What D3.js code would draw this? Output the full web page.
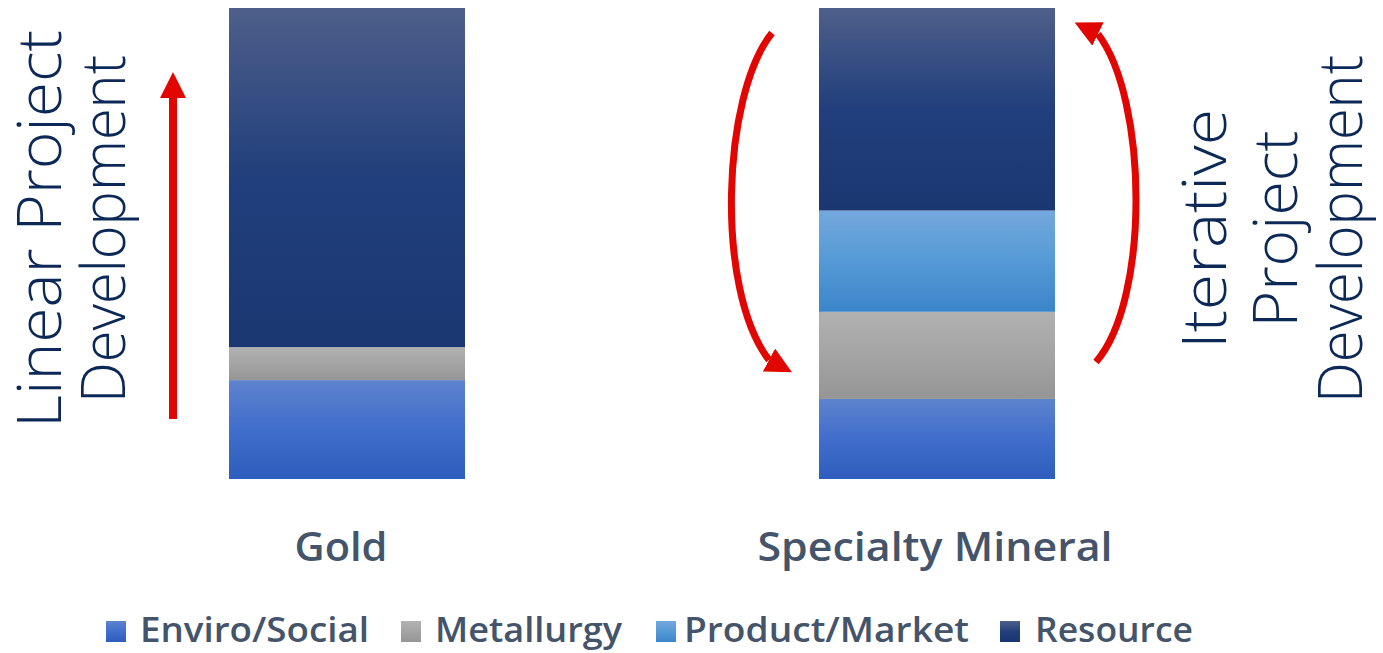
<!DOCTYPE html>
<html>
<head>
<meta charset="utf-8">
<script src="https://cdn.jsdelivr.net/npm/d3@7"></script>
<style>
  html, body { margin: 0; padding: 0; background: #fff; }
  svg { display: block; }
</style>
</head>
<body>
<div id="chart"></div>
<script>
// Values (100% stacked bars)
const categories = ["Gold", "Specialty Mineral"];
const seriesNames = ["Enviro/Social", "Metallurgy", "Product/Market", "Resource"];
const enviroSocial = [21, 17];
const metallurgy = [7, 18.5];
const productMarket = [0, 21.5];
const resource = [72, 43];

// top / middle / bottom colours of each series' vertical gradient
const gradTop = ["#5e83ce", "#b1b1b1", "#73a8dd", "#4e5f8a"];
const gradMid = ["#416ecc", "#a4a4a4", "#559ad6", "#213f7c"];
const gradBottom = ["#2d5dbd", "#959595", "#3c85ca", "#1a3772"];

const width = 1383;
const height = 653;

const rows = categories.map((c, i) => ({
    category: c,
    "Enviro/Social": enviroSocial[i],
    "Metallurgy": metallurgy[i],
    "Product/Market": productMarket[i],
    "Resource": resource[i]
}));

const svg = d3.select("#chart").append("svg")
    .attr("width", width)
    .attr("height", height)
    .attr("viewBox", [0, 0, width, height]);

const defs = svg.append("defs");

seriesNames.forEach((s, i) => {
    const g = defs.append("linearGradient")
        .attr("id", "grad" + i)
        .attr("x1", 0).attr("y1", 0).attr("x2", 0).attr("y2", 1);
    g.append("stop").attr("offset", "0%").attr("stop-color", gradTop[i]);
    g.append("stop").attr("offset", "50%").attr("stop-color", gradMid[i]);
    g.append("stop").attr("offset", "100%").attr("stop-color", gradBottom[i]);
});

// arrow heads: one follows the path, the curved ones keep a fixed tilt like the original
function addHead(id, orient) {
    defs.append("marker")
        .attr("id", id)
        .attr("markerUnits", "userSpaceOnUse")
        .attr("viewBox", "0 -13 26 26")
        .attr("markerWidth", 26)
        .attr("markerHeight", 26)
        .attr("refX", 0)
        .attr("refY", 0)
        .attr("orient", orient)
        .append("path")
        .attr("d", "M0,-13L26,0L0,13Z")
        .attr("fill", "#e10600");
}
addHead("head", "auto");
addHead("headDown", 28);
addHead("headUp", 206);

// Scales
const x = d3.scaleBand()
    .domain(categories)
    .range([52, 1232])
    .paddingInner(0.6)
    .paddingOuter(0.3);

const y = d3.scaleLinear()
    .domain([0, 100])
    .range([479, 8]);

const stacked = d3.stack().keys(seriesNames)(rows);

// Bars
svg.append("g")
    .selectAll("g")
    .data(stacked)
    .join("g")
    .attr("fill", (d, i) => `url(#grad${i})`)
    .selectAll("rect")
    .data(d => d.filter(p => p[1] - p[0] > 0))
    .join("rect")
    .attr("x", d => x(d.data.category))
    .attr("y", d => y(d[1]))
    .attr("width", x.bandwidth())
    .attr("height", d => y(d[0]) - y(d[1]));

// Category labels
const labelFont = "'Open Sans', 'Liberation Sans', sans-serif";
const labelWidths = { "Gold": 93, "Specialty Mineral": 355 };
const labelShift = { "Gold": -6, "Specialty Mineral": -2 };
svg.append("g")
    .selectAll("text")
    .data(categories)
    .join("text")
    .attr("x", d => x(d) + x.bandwidth() / 2 + labelShift[d])
    .attr("y", 561)
    .attr("text-anchor", "middle")
    .attr("font-family", labelFont)
    .attr("font-weight", 600)
    .attr("font-size", 40)
    .attr("fill", "#44546a")
    .attr("textLength", d => labelWidths[d])
    .attr("lengthAdjust", "spacingAndGlyphs")
    .text(d => d);

// Legend
const legendBoxX = [106, 401, 656, 1000];
const legendTextX = [140, 435, 684, 1035];
const legendTextW = [229, 187, 285, 158];
const legend = svg.append("g")
    .selectAll("g")
    .data(seriesNames)
    .join("g");

legend.append("rect")
    .attr("x", (d, i) => legendBoxX[i])
    .attr("y", 621)
    .attr("width", 20)
    .attr("height", 21)
    .attr("fill", (d, i) => `url(#grad${i})`);

legend.append("text")
    .attr("x", (d, i) => legendTextX[i])
    .attr("y", 642)
    .attr("font-family", labelFont)
    .attr("font-weight", 600)
    .attr("font-size", 35)
    .attr("fill", "#44546a")
    .attr("textLength", (d, i) => legendTextW[i])
    .attr("lengthAdjust", "spacingAndGlyphs")
    .text(d => d);

// Rotated side titles
const sideFont = "'Open Sans', 'Noto Sans', sans-serif";
const sideLines = [
    { text: "Linear Project", bx: 61, len: 398 },
    { text: "Development", bx: 125, len: 348 },
    { text: "Iterative", bx: 1226, len: 240 },
    { text: "Project", bx: 1297, len: 197 },
    { text: "Development", bx: 1362, len: 348 }
];
svg.append("g")
    .selectAll("text")
    .data(sideLines)
    .join("text")
    .attr("transform", d => `translate(${d.bx},229) rotate(-90)`)
    .attr("text-anchor", "middle")
    .attr("font-family", sideFont)
    .attr("font-weight", 300)
    .attr("font-size", 60)
    .attr("fill", "#0b2856")
    .attr("textLength", d => d.len)
    .attr("lengthAdjust", "spacingAndGlyphs")
    .text(d => d.text);

// Red arrows
const arrows = svg.append("g")
    .attr("fill", "none")
    .attr("stroke", "#e10600");

const straight = d3.path();
straight.moveTo(173, 419);
straight.lineTo(173, 98);
arrows.append("path")
    .attr("d", straight.toString())
    .attr("stroke-width", 8)
    .attr("marker-end", "url(#head)");

const down = d3.path();
down.moveTo(772, 33);
down.bezierCurveTo(722, 95, 715, 290, 769, 360);
arrows.append("path")
    .attr("d", down.toString())
    .attr("stroke-width", 7)
    .attr("marker-end", "url(#headDown)");

const up = d3.path();
up.moveTo(1096, 362);
up.bezierCurveTo(1150, 300, 1148, 100, 1098, 34);
arrows.append("path")
    .attr("d", up.toString())
    .attr("stroke-width", 7)
    .attr("marker-end", "url(#headUp)");
</script>
</body>
</html>
